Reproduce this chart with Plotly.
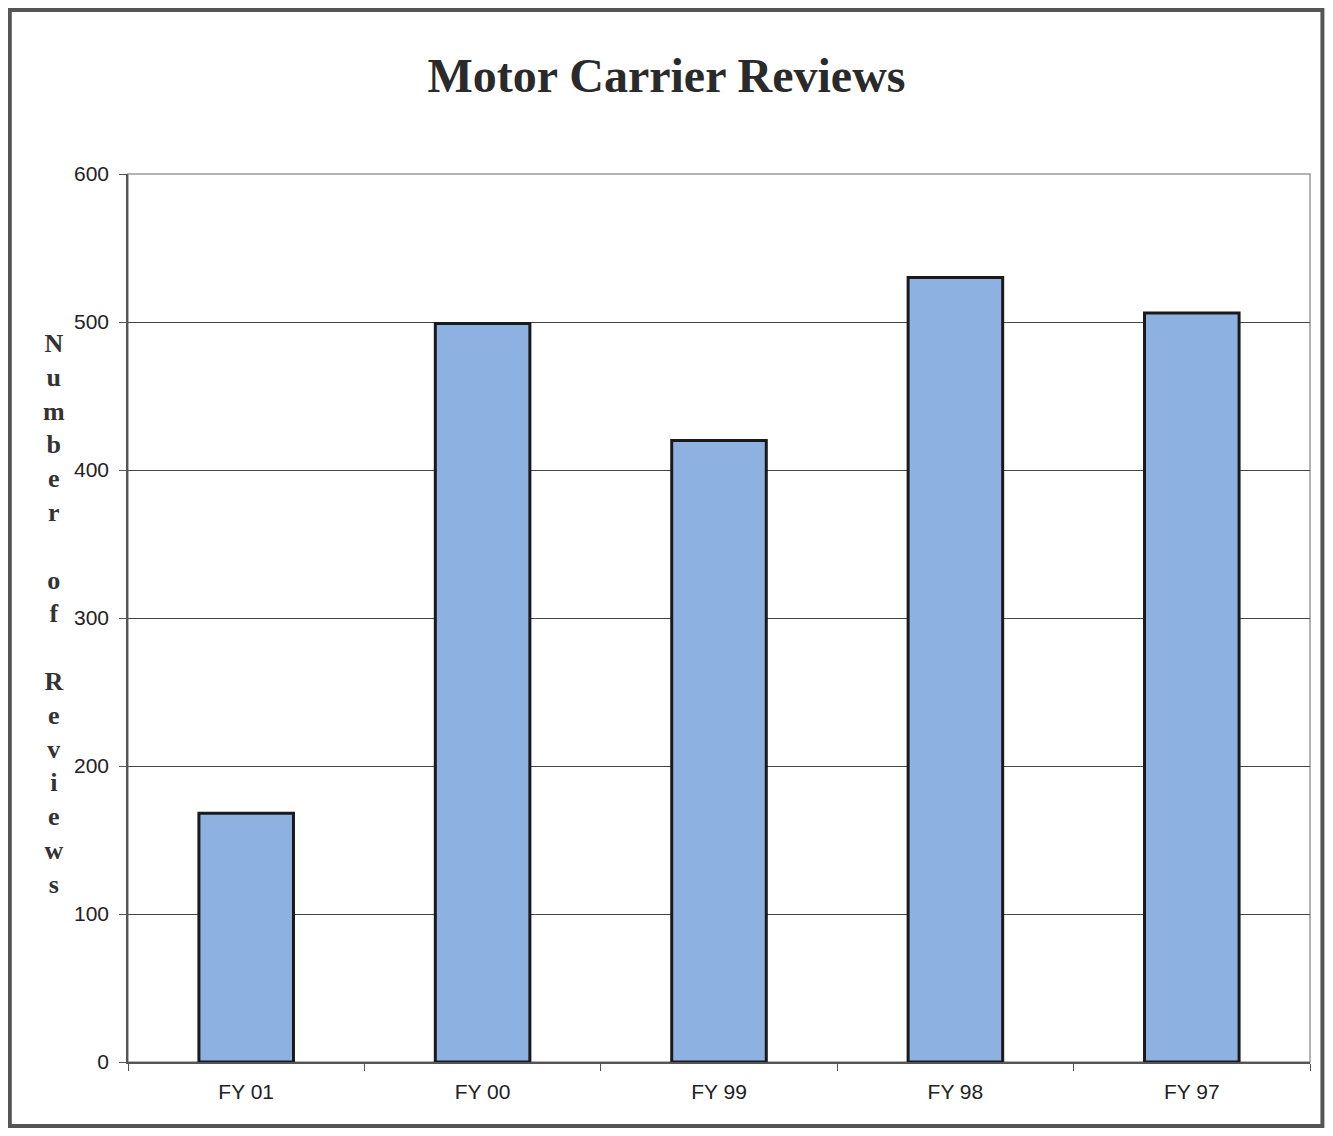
import plotly.graph_objects as go

categories = ["FY 01", "FY 00", "FY 99", "FY 98", "FY 97"]
reviews = [168, 499, 420, 530, 506]
y_ticks = [0, 100, 200, 300, 400, 500, 600]
y_title = "Number of Reviews"

# stacked vertical letters, like the original Excel axis title
stacked = "<br>".join(" " if ch == " " else ch for ch in y_title)

fig = go.Figure(go.Bar(
    x=categories,
    y=reviews,
    marker=dict(color="#8DB2E2", line=dict(color="#1a1a1a", width=3)),
    hovertemplate="%{x}: %{y}<extra></extra>",
))

# page body has an 8px margin, so the figure is sized/offset to fit the window
fig.update_layout(
    width=1317,
    height=1120,
    paper_bgcolor="white",
    plot_bgcolor="white",
    margin=dict(l=120, r=15, t=166, b=66),
    bargap=0.6,
    showlegend=False,
    title=dict(
        text="<b>Motor Carrier Reviews</b>",
        font=dict(family="Liberation Serif", size=48, color="#2a2a2a"),
        x=0.5, xanchor="center",
        y=0.94, yanchor="middle",
    ),
    font=dict(family="Liberation Sans", color="#222222"),
    xaxis=dict(
        showgrid=False,
        showline=True, linecolor="#555555", linewidth=1.5,
        ticks="outside", tickson="boundaries", ticklen=7, tickcolor="#555555",
        tickfont=dict(size=21, color="#222222"),
        ticklabelstandoff=10,
    ),
    yaxis=dict(
        range=[0, 600],
        tickvals=y_ticks,
        showgrid=True, gridcolor="#444444", gridwidth=1,
        showline=True, linecolor="#555555", linewidth=1.5,
        ticks="outside", ticklen=7, tickcolor="#555555",
        tickfont=dict(size=21, color="#222222"),
        ticklabelstandoff=6,
        zeroline=False,
    ),
    shapes=[
        # plot area frame (top/right in light gray)
        dict(type="rect", xref="paper", yref="paper", x0=0, x1=1, y0=0, y1=1,
             line=dict(color="#9a9a9a", width=1.5), layer="below"),
        # outer scanned frame
        dict(type="rect", xref="paper", yref="paper",
             x0=-0.1, x1=1.0105, y0=-0.072, y1=1.1847,
             line=dict(color="#555555", width=4)),
    ],
    annotations=[
        dict(
            text="<b>" + stacked + "</b>",
            xref="paper", yref="paper",
            x=-0.063, y=0.505, xanchor="center", yanchor="middle",
            showarrow=False, align="center",
            font=dict(family="Liberation Serif", size=26, color="#333333"),
        ),
    ],
)

fig.write_html("out.html")
